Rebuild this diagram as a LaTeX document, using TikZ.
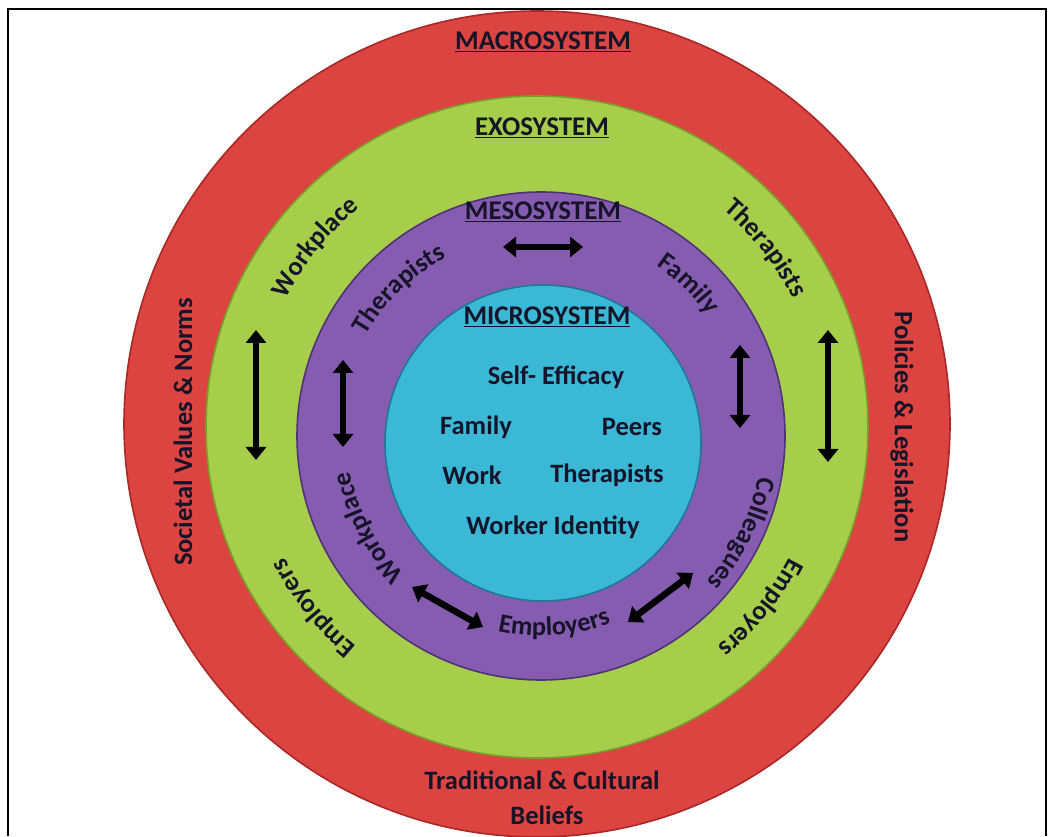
\documentclass[tikz,border=0pt]{standalone}
\usepackage{fontspec}
\setmainfont{Carlito}
\usetikzlibrary{arrows.meta,decorations.text,calc}
\definecolor{macrored}{RGB}{219,68,64}
\definecolor{macroedge}{RGB}{170,40,38}
\definecolor{exogreen}{RGB}{167,206,74}
\definecolor{exoedge}{RGB}{120,160,40}
\definecolor{mesopurple}{RGB}{133,92,176}
\definecolor{mesoedge}{RGB}{80,50,120}
\definecolor{microcyan}{RGB}{58,184,214}
\definecolor{microedge}{RGB}{30,120,150}
\definecolor{inkdark}{RGB}{22,20,40}
\newcommand{\lblfont}{\fontsize{26.5}{30}\selectfont\bfseries}
\newcommand{\ttlfont}{\fontsize{27}{31}\selectfont\bfseries}
\newcommand{\arctext}[5]{%
  \path[decorate, decoration={text along path, text={|\lblfont\color{inkdark}|#5}, text align=center}]
    ($(#1)+(#3:#2)$) arc[start angle=#3, end angle=#4, radius=#2];}
\begin{document}
\begin{tikzpicture}[x=1pt,y=1pt,
  disc/.style={circle, inner sep=0pt, line width=1.6pt},
  ttl/.style={font=\ttlfont, text=inkdark, inner sep=1pt},
  lbl/.style={font=\lblfont, text=inkdark, inner sep=1pt},
  dbl/.style={{Triangle[length=13pt,width=20pt]}-{Triangle[length=13pt,width=20pt]}, line width=6.5pt, draw=black}]
\useasboundingbox (0,0) rectangle (1054,836);
\fill[white] (0,0) rectangle (1054,836);
% frame
\draw[line width=2.5pt, black] (8,0) -- (8,827) -- (1046,827) -- (1046,0);
% centres
\coordinate (R) at (537,412);
\coordinate (G) at (537,409);
\coordinate (P) at (541,400);
\coordinate (C) at (543,393);
% discs
\node[disc, fill=macrored, draw=macroedge, minimum size=826pt] (macro) at (R) {};
\node[disc, fill=exogreen, draw=exoedge, minimum size=662pt] (exo) at (G) {};
\node[disc, fill=mesopurple, draw=mesoedge, minimum size=488pt] (meso) at (P) {};
\node[disc, fill=microcyan, draw=microedge, minimum size=316pt] (micro) at (C) {};
% titles
\node[ttl] (tmacro) at (543,794) {\underline{MACROSYSTEM}};
\node[ttl] (texo) at (542,708) {\underline{EXOSYSTEM}};
\node[ttl] (tmeso) at (543,624) {\underline{MESOSYSTEM}};
\node[ttl] (tmicro) at (547,519) {\underline{MICROSYSTEM}};
% microsystem items
\node[lbl] (selfeff) at (556,459) {Self- Efficacy};
\node[lbl] (mfamily) at (476,409) {Family};
\node[lbl] (mpeers) at (632,409) {Peers};
\node[lbl] (mwork) at (472,361) {Work};
\node[lbl] (mther) at (607,361) {Therapists};
\node[lbl] (mworker) at (553,309) {Worker Identity};
% macrosystem labels
\node[lbl, rotate=90] (societal) at (183,404) {Societal Values \& Norms};
\node[lbl, rotate=-90] (policies) at (902,409) {Policies \& Legislation};
\node[lbl] (tradit) at (542,56) {Traditional \& Cultural};
\node[lbl] (beliefs) at (547,21) {Beliefs};
% mesosystem ring labels
\arctext{P}{202}{164}{104}{Therapists}
\arctext{P}{206}{76}{16}{Family}
\arctext{P}{221}{4}{-56}{Colleagues}
\arctext{P}{200}{-116}{-56}{Employers}
\arctext{P}{194}{238}{178}{Workplace}
% exosystem ring labels
\arctext{G}{282}{171}{111}{Workplace}
\arctext{G}{286}{68}{8}{Therapists}
\arctext{G}{284}{-9}{-69}{Employers}
\arctext{G}{284}{249}{189}{Employers}
% arrows
\coordinate (mhA) at (503,589); \coordinate (mhB) at (583,589);
\coordinate (mlA) at (343,476); \coordinate (mlB) at (343,389);
\coordinate (mrA) at (740,491); \coordinate (mrB) at (740,408);
\coordinate (glA) at (256,506); \coordinate (glB) at (256,376);
\coordinate (grA) at (828,506); \coordinate (grB) at (828,374);
\coordinate (dlA) at (412,249); \coordinate (dlB) at (483,209);
\coordinate (drA) at (628,214); \coordinate (drB) at (693,263);
\draw[dbl] (mhA) -- (mhB);
\draw[dbl] (mlA) -- (mlB);
\draw[dbl] (mrA) -- (mrB);
\draw[dbl] (glA) -- (glB);
\draw[dbl] (grA) -- (grB);
\draw[dbl] (dlA) -- (dlB);
\draw[dbl] (drA) -- (drB);
\end{tikzpicture}
\end{document}
